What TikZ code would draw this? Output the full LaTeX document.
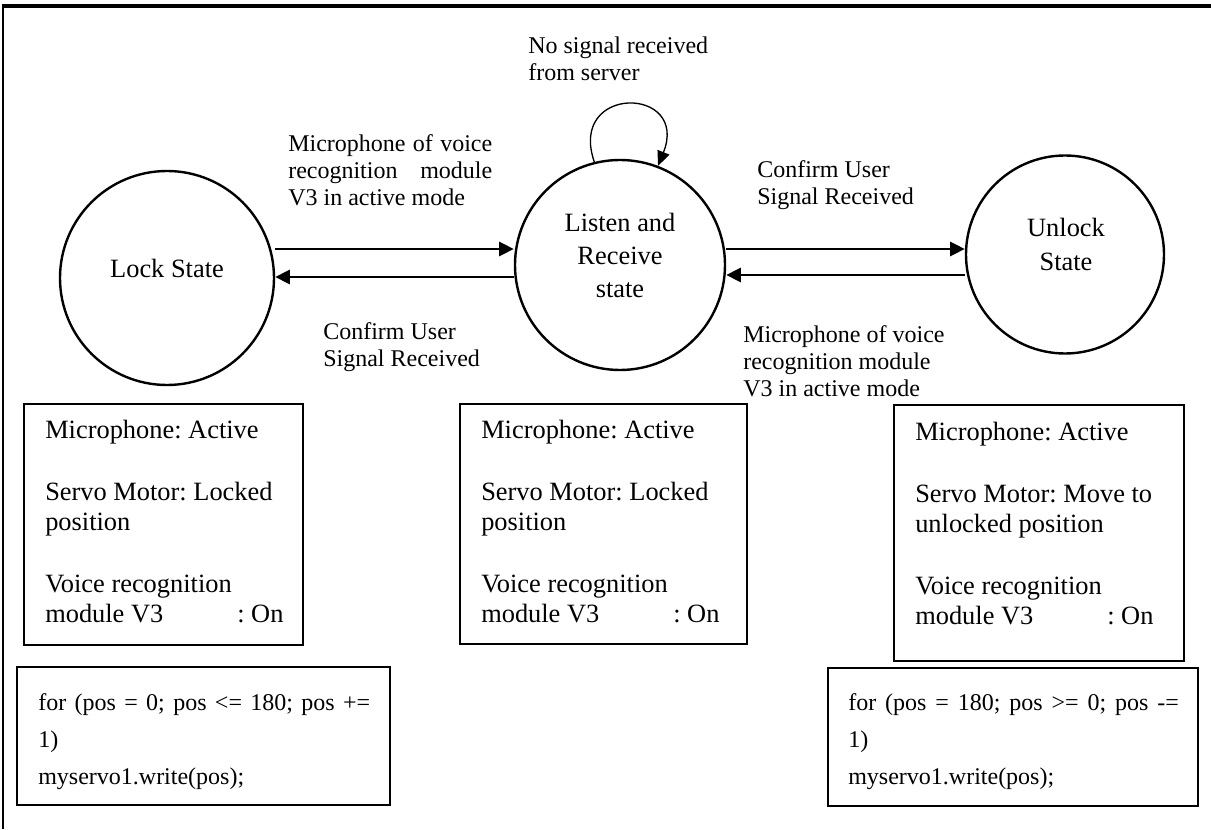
\documentclass[tikz,border=0pt]{standalone}
\usepackage{fontspec}
\setmainfont{Liberation Serif}
\usetikzlibrary{arrows.meta}
\frenchspacing
\newcommand\statusline[1]{\makebox[144pt][l]{#1}: On}
\begin{document}
\begin{tikzpicture}[x=0.75pt,y=0.75pt,
  state/.style={draw, circle, line width=1.8pt, inner sep=0pt},
  infobox/.style={draw, line width=1.1pt, inner sep=0pt},
  arr/.style={line width=2pt, -{Triangle[length=11pt,width=10.5pt]}},
  loopline/.style={line width=1pt, -{Triangle[length=11pt,width=9.5pt]}},
  big/.style={font=\fontsize{19.8}{22.5}\selectfont},
  small/.style={font=\fontsize{18}{20.25}\selectfont},
  codefont/.style={font=\fontsize{18}{27.75}\selectfont},
  txt/.style={inner sep=0pt, align=left}
]
\useasboundingbox (0,0) rectangle (1211,829);
\fill[white] (0,0) rectangle (1211,829);

% page frame
\draw[line width=2.3pt] (2,823) -- (1211,823);
\draw[line width=1.3pt] (3,824) -- (3,0);

% states
\node[state, minimum size=160.5pt] (lock) at (167,551) {};
\node[state, minimum size=157.5pt] (mid) at (620,564) {};
\node[state, minimum size=148.5pt] (unlock) at (1065,574.5) {};

\node[big, txt] (lockname) at (167,561) {Lock State};
\node[txt, align=center, font=\fontsize{19.8}{24.75}\selectfont] (midname) at (620,574) {Listen and\\Receive\\state};
\node[txt, align=center, font=\fontsize{19.8}{25.5}\selectfont] (unlockname) at (1066,585) {Unlock\\State};

% transitions
\coordinate (r1) at (0,580);
\coordinate (r2) at (0,552);
\coordinate (r3) at (0,554);
\draw[arr] (lock.east |- r1) -- (mid.west |- r1);
\draw[arr] (mid.west |- r2) -- (lock.east |- r2);
\draw[arr] (mid.east |- r1) -- (unlock.west |- r1);
\draw[arr] (unlock.west |- r3) -- (mid.east |- r3);
\draw[loopline] (mid.104) .. controls +(-27,78) and +(32,80) .. (mid.69);

% transition labels
\node[small, txt, anchor=west] (lab1) at (288,659)
  {\makebox[153pt][s]{Microphone of voice}\\\makebox[153pt][s]{recognition module}\\V3 in active mode};
\node[small, txt, anchor=west] (lab2) at (323,481.5) {Confirm User\\Signal Received};
\node[small, txt, anchor=west] (lab3) at (757,643.5) {Confirm User\\Signal Received};
\node[small, txt, anchor=west] (lab4) at (743,468) {Microphone of voice\\recognition module\\V3 in active mode};
\node[small, txt, anchor=west] (lab5) at (528,770.5) {No signal received\\from server};

% state descriptions
\node[infobox, minimum width=209.25pt, minimum height=180.75pt] (info1) at (163.5,304.5) {};
\node[infobox, minimum width=215.25pt, minimum height=180pt] (info2) at (603.5,305) {};
\node[infobox, minimum width=217.5pt, minimum height=192pt] (info3) at (1039,296) {};

\node[big, txt, anchor=west] (desc1) at (45,307.5)
  {Microphone: Active\\[24pt]Servo Motor: Locked\\position\\[24pt]Voice recognition\\\statusline{module V3}};
\node[big, txt, anchor=west] (desc2) at (481,307.5)
  {Microphone: Active\\[24pt]Servo Motor: Locked\\position\\[24pt]Voice recognition\\\statusline{module V3}};
\node[big, txt, anchor=west] (desc3) at (915,305.5)
  {Microphone: Active\\[24pt]Servo Motor: Move to\\unlocked position\\[24pt]Voice recognition\\\statusline{module V3}};

% servo code
\node[infobox, minimum width=279.75pt, minimum height=103.5pt] (code1) at (203.5,93) {};
\node[infobox, minimum width=277.5pt, minimum height=103.5pt] (code3) at (1013,92) {};
\node[codefont, txt, anchor=west] (codetext1) at (38,87.5)
  {\makebox[249pt][s]{for (pos = 0; pos <= 180; pos +=}\\1)\\myservo1.write(pos);};
\node[codefont, txt, anchor=west] (codetext3) at (848,87.5)
  {\makebox[248pt][s]{for (pos = 180; pos >= 0; pos -=}\\1)\\myservo1.write(pos);};
\end{tikzpicture}
\end{document}
